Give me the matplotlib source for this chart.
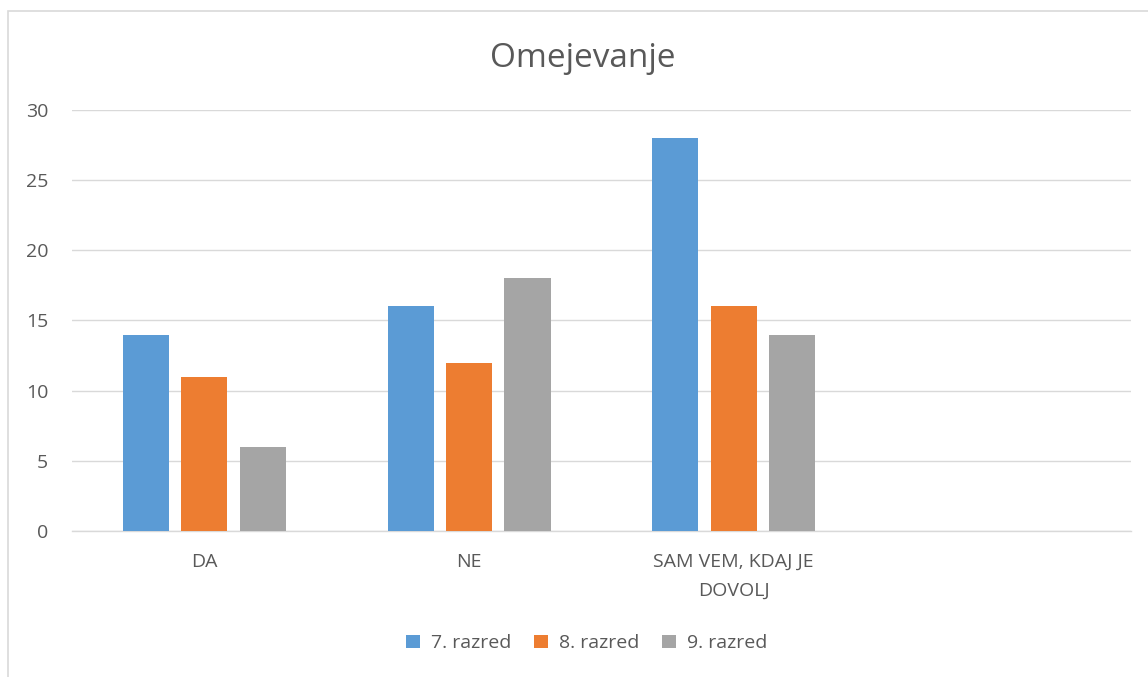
import matplotlib.pyplot as plt
import numpy as np
from matplotlib.patches import Rectangle

categories = ['DA', 'NE', 'SAM VEM, KDAJ JE\nDOVOLJ', '']
series_names = ['7. razred', '8. razred', '9. razred']
razred7 = [14, 16, 28, np.nan]
razred8 = [11, 12, 16, np.nan]
razred9 = [6, 18, 14, np.nan]
colors = ['#5B9BD5', '#ED7D31', '#A5A5A5']

plt.rcParams['font.family'] = ['Open Sans', 'DejaVu Sans']
text_col = '#595959'

fig = plt.figure(figsize=(11.48, 6.77), dpi=100)
ax = fig.add_axes([0.0627, 0.2157, 0.9223, 0.6218])

x = np.arange(len(categories))
width = 0.174
offsets = [-0.221, 0.0, 0.221]
for vals, off, c, name in zip([razred7, razred8, razred9], offsets, colors, series_names):
    ax.bar(x + off, vals, width, color=c, label=name, zorder=3)

ax.set_xlim(-0.5, len(categories) - 0.5)
ax.set_ylim(0, 30)
ax.set_yticks(range(0, 31, 5))
ax.grid(axis='y', color='#D9D9D9', linewidth=1, zorder=0)
for s in ['top', 'right', 'left']:
    ax.spines[s].set_visible(False)
ax.spines['bottom'].set_color('#D9D9D9')
ax.spines['bottom'].set_linewidth(1)
ax.set_xticks(x)
ax.set_xticklabels(categories, fontsize=14, color=text_col, linespacing=1.75)
ax.tick_params(axis='both', length=0, labelsize=14, colors=text_col)
ax.tick_params(axis='x', pad=16)
ax.tick_params(axis='y', pad=17)

fig.text(0.508, 0.913, 'Omejevanje', ha='center', va='center', fontsize=24, color=text_col)

fig.legend(loc='center', bbox_to_anchor=(0.511, 0.05), ncol=3, frameon=False,
           fontsize=14, labelcolor=text_col, handlelength=0.7, handleheight=0.7,
           handletextpad=0.55, columnspacing=1.2)

# chart border (cut off at right and bottom)
fig.patches.append(Rectangle((8 / 1148, -0.1), 1.2, 1 - 11 / 677 + 0.1,
                             transform=fig.transFigure, fill=False,
                             edgecolor='#D9D9D9', linewidth=1.2))

fig.savefig('out.png', dpi=100)
